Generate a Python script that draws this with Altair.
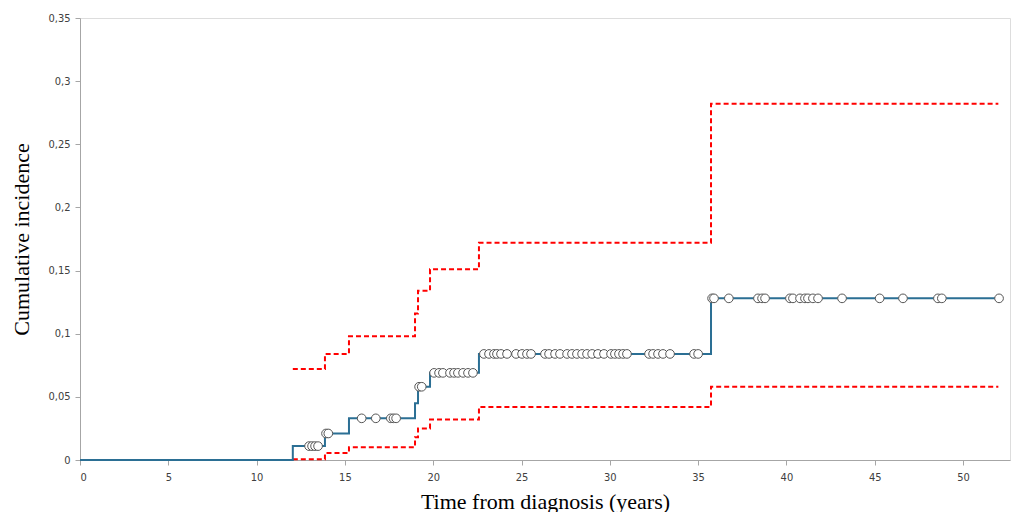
import altair as alt
import pandas as pd

# Estimate (blue step line)
est_t = [0, 12.05, 13.87, 15.23, 18.97, 19.14, 19.82, 22.59, 35.73, 52.0]
est_v = [0, 0.011, 0.021, 0.033, 0.045, 0.058, 0.069, 0.084, 0.128, 0.128]

# Upper confidence bound (red dashed)
up_t = [12.05, 13.87, 15.23, 18.97, 19.14, 19.82, 22.59, 35.73, 52.0]
up_v = [0.072, 0.084, 0.098, 0.116, 0.134, 0.151, 0.172, 0.282, 0.282]

# Lower confidence bound (red dashed)
lo_t = [12.05, 13.87, 15.23, 18.97, 19.14, 19.82, 22.59, 35.73, 52.0]
lo_v = [0.0005, 0.0055, 0.010, 0.018, 0.025, 0.032, 0.042, 0.058, 0.058]

# Censored observations (circles), grouped by level
cens_011 = [12.97, 13.14, 13.31, 13.48]
cens_021 = [13.93, 14.06]
cens_033 = [15.95, 16.75, 17.6, 17.75, 17.9]
cens_058 = [19.2, 19.35]
cens_069 = [20.05, 20.33, 20.55, 20.95, 21.18, 21.4, 21.69, 21.97, 22.25]
cens_084 = [22.87, 23.16, 23.44, 23.61, 23.84, 24.18, 24.69, 25.03, 25.31, 25.54,
            26.33, 26.56, 26.9, 27.18, 27.58, 27.86, 28.14, 28.43, 28.71, 29.0,
            29.33, 29.67, 30.07, 30.29, 30.52, 30.75, 30.97, 32.22, 32.45, 32.73,
            33.01, 33.41, 34.77, 35.0]
cens_128 = [35.79, 35.9, 36.74, 38.39, 38.62, 38.79, 40.2, 40.37, 40.77, 41.05,
            41.22, 41.5, 41.79, 43.15, 45.28, 46.6, 48.58, 48.8, 52.04]

est_df = pd.DataFrame({"t": est_t, "v": est_v})
up_df = pd.DataFrame({"t": up_t, "v": up_v})
lo_df = pd.DataFrame({"t": lo_t, "v": lo_v})

rows = []
for lvl, ts in [(0.011, cens_011), (0.021, cens_021), (0.033, cens_033),
                (0.058, cens_058), (0.069, cens_069), (0.084, cens_084),
                (0.128, cens_128)]:
    for t in ts:
        rows.append({"t": t, "v": lvl})
cens_df = pd.DataFrame(rows)

x_ticks = [0, 5, 10, 15, 20, 25, 30, 35, 40, 45, 50]
y_ticks = [0, 0.05, 0.1, 0.15, 0.2, 0.25, 0.3, 0.35]

label_font = "Liberation Sans Narrow, Arial Narrow, DejaVu Sans Condensed, Liberation Sans, sans-serif"

xscale = alt.Scale(domain=[0, 52.66], nice=False, zero=False)
yscale = alt.Scale(domain=[0, 0.35], nice=False)

xaxis = alt.Axis(values=x_ticks, title="Time from diagnosis (years)", grid=False,
                 labelFont=label_font, labelFontSize=11, labelColor="#404040",
                 domainColor="#a6a6a6", tickColor="#a6a6a6", tickSize=5, labelPadding=6,
                 titleFont="Liberation Serif", titleFontSize=22, titleFontWeight="normal",
                 titleColor="#000000", titlePadding=9)
yaxis = alt.Axis(values=y_ticks, title="Cumulative incidence", grid=False,
                 labelExpr="replace(toString(datum.value), '.', ',')",
                 labelFont=label_font, labelFontSize=11, labelColor="#404040",
                 domainColor="#a6a6a6", tickColor="#a6a6a6", tickSize=5, labelPadding=5,
                 titleFont="Liberation Serif", titleFontSize=22, titleFontWeight="normal",
                 titleColor="#000000", titlePadding=14)

x = alt.X("t:Q", scale=xscale, axis=xaxis)
y = alt.Y("v:Q", scale=yscale, axis=yaxis)

upper = alt.Chart(up_df).mark_line(interpolate="step-after", color="#ff0000",
                                   strokeWidth=2, strokeDash=[5, 3]).encode(x=x, y=y)
lower = alt.Chart(lo_df).mark_line(interpolate="step-after", color="#ff0000",
                                   strokeWidth=2, strokeDash=[5, 3]).encode(x=x, y=y)
est = alt.Chart(est_df).mark_line(interpolate="step-after", color="#2b6f94",
                                  strokeWidth=2).encode(x=x, y=y)
cens = alt.Chart(cens_df).mark_point(shape="circle", filled=True, fill="#ffffff",
                                     stroke="#555555", strokeWidth=1, size=75,
                                     opacity=1).encode(x=x, y=y)

chart = alt.layer(upper, lower, est, cens).properties(
    width=930, height=442,
    autosize=alt.AutoSizeParams(type="none"),
    padding={"left": 72, "top": 10, "right": 6, "bottom": 52},
).configure_view(stroke=None).configure(background="#ffffff")

chart.save("out.html", embed_options={"renderer": "svg", "actions": False})
